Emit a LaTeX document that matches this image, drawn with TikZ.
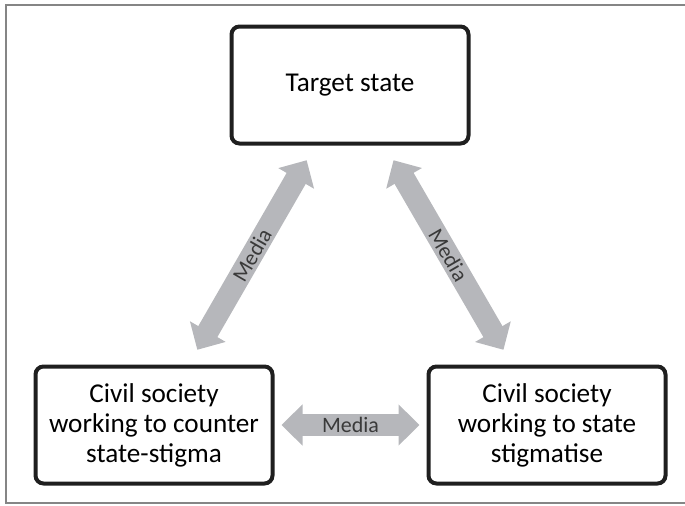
\documentclass[tikz,border=0pt]{standalone}
\usepackage{fontspec}
\setmainfont{Carlito}
\usepackage[HTML]{xcolor}
\usetikzlibrary{arrows.meta}
\definecolor{mediagray}{HTML}{B6B7BB}
\definecolor{labelgray}{HTML}{3A3A3A}
\definecolor{framegray}{HTML}{858585}

\begin{document}
\begin{tikzpicture}[x=0.5pt, y=0.5pt,
  actor/.style={draw=black!88, line width=2pt, rounded corners=4pt,
    minimum width=118.5pt, minimum height=58.5pt, align=center,
    font=\fontsize{13.6}{15}\selectfont},
  media/.style={draw=mediagray, line width=11pt,
    {Triangle[width=20pt,length=10.5pt]}-{Triangle[width=20pt,length=10.5pt]}},
  medialabel/.style={font=\fontsize{11}{12}\selectfont, text=labelgray, inner sep=0pt}]
\useasboundingbox (0,0) rectangle (685,505);
\draw[framegray, line width=1pt] (685,500) -- (6,500) -- (6,2) -- (685,2);

\node[actor] (target)  at (350,420) {Target state};
\node[actor] (counter) at (154,80)  {Civil society\\working to counter\\state-stigma};
\node[actor] (stigma)  at (547,80)  {Civil society\\working to state\\stigmatise};

\draw[media, shorten <=8.5pt, shorten >=8.5pt] (counter) -- node[medialabel, sloped] {Media} (target);
\draw[media, shorten <=8.5pt, shorten >=8.5pt] (target)  -- node[medialabel, sloped] {Media} (stigma);
\draw[media, shorten <=3.5pt, shorten >=3.5pt] (counter) -- node[medialabel] {Media} (stigma);
\end{tikzpicture}
\end{document}
